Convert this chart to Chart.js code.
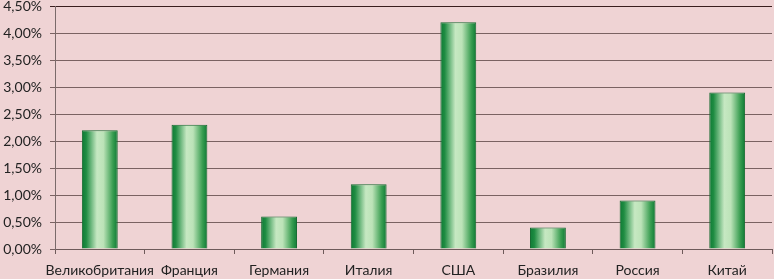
<!DOCTYPE html>
<html>
<head>
<meta charset="utf-8">
<script src="https://cdn.jsdelivr.net/npm/chart.js@4.4.1/dist/chart.umd.min.js"></script>
<style>
  html, body { margin: 0; padding: 0; background: #EFD3D4; }
  #wrap { width: 774px; height: 279px; }
</style>
</head>
<body>
<div id="wrap"><canvas id="myChart"></canvas></div>
<script>
var countries = ["Великобритания", "Франция", "Германия", "Италия", "США", "Бразилия", "Россия", "Китай"];
var shares = [2.2, 2.3, 0.6, 1.2, 4.2, 0.4, 0.9, 2.9];
var yTicks = [0, 0.5, 1, 1.5, 2, 2.5, 3, 3.5, 4, 4.5];

var barPct = 0.4;

// horizontal gradient for each bar, dark edges and a light middle
function barFill(context) {
    var chart = context.chart;
    var x = chart.scales.x;
    if (!x || !chart.chartArea) return '#2e8b4a';
    var cx = x.getPixelForValue(context.dataIndex);
    var w = (x.width / countries.length) * barPct;
    var g = chart.ctx.createLinearGradient(cx - w / 2, 0, cx + w / 2, 0);
    g.addColorStop(0, '#0d7a34');
    g.addColorStop(0.12, '#1f8c42');
    g.addColorStop(0.42, '#c6e8c2');
    g.addColorStop(0.6, '#bce3b8');
    g.addColorStop(0.86, '#3a9e52');
    g.addColorStop(1, '#0d7a34');
    return g;
}

var ctx = document.getElementById('myChart').getContext('2d');
var chart = new Chart(ctx, {
    type: 'bar',
    data: {
        labels: countries,
        datasets: [{
            data: shares,
            backgroundColor: barFill,
            borderColor: '#166a30',
            borderWidth: 1,
            barPercentage: barPct,
            categoryPercentage: 1
        }]
    },
    options: {
        responsive: true,
        maintainAspectRatio: false,
        animation: false,
        layout: { padding: { top: 6, right: 2, left: 0, bottom: 0 } },
        plugins: {
            legend: { display: false },
            tooltip: { enabled: false }
        },
        scales: {
            x: {
                afterFit: function (axis) { axis.height = 30; axis.paddingLeft = 0; axis.paddingRight = 0; },
                grid: {
                    offset: true,
                    drawOnChartArea: false,
                    color: '#6e5a5a',
                    tickLength: 5
                },
                border: { color: '#6e5a5a' },
                ticks: {
                    color: '#222',
                    font: { family: 'Lato', size: 14 },
                    maxRotation: 0,
                    autoSkip: false,
                    padding: 8
                }
            },
            y: {
                min: 0,
                max: 4.5,
                afterBuildTicks: function (axis) {
                    axis.ticks = yTicks.map(function (v) { return { value: v }; });
                },
                afterFit: function (axis) { axis.width = 55; axis.paddingTop = 0; axis.paddingBottom = 0; },
                grid: {
                    color: function (c) { return c.index === yTicks.length - 1 ? '#3a1e1e' : '#7a6262'; },
                    tickLength: 5
                },
                border: { color: '#7a6a6a' },
                ticks: {
                    color: '#222',
                    font: { family: 'Lato', size: 14 },
                    padding: 8,
                    callback: function (v) { return v.toFixed(2).replace('.', ',') + '%'; }
                }
            }
        }
    }
});
</script>
</body>
</html>
